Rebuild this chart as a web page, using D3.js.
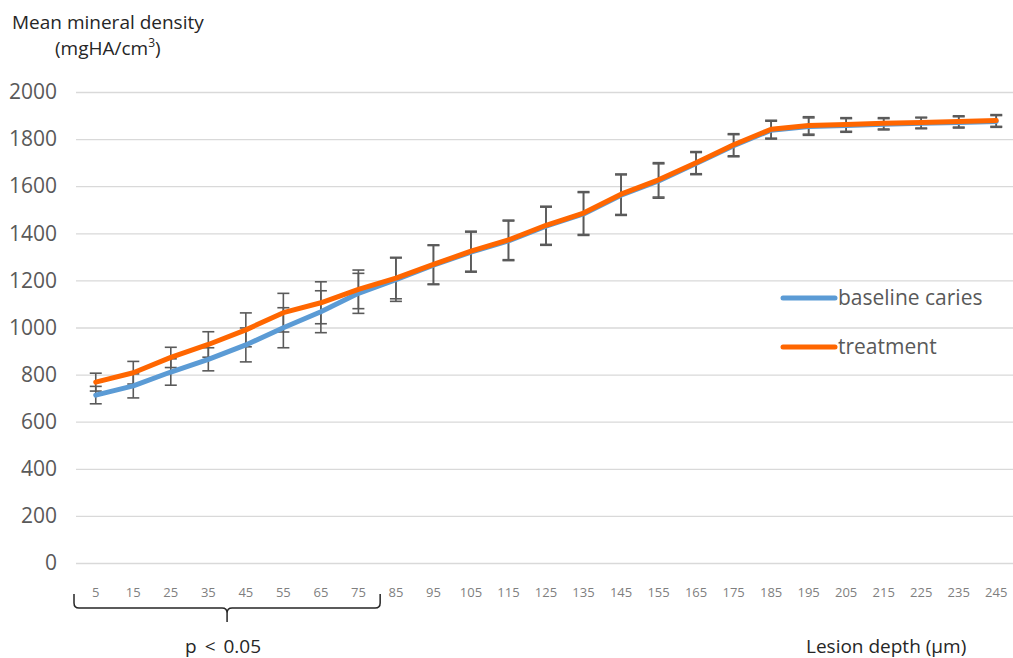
<!DOCTYPE html>
<html>
<head>
<meta charset="utf-8">
<script src="https://cdn.jsdelivr.net/npm/d3@7"></script>
<style>
  html, body { margin: 0; padding: 0; background: #ffffff; }
  svg { display: block; }
</style>
</head>
<body>
<svg id="chart" width="1013" height="658"></svg>
<script>
// Lesion depth (µm) at each measurement step
const depths = [5, 15, 25, 35, 45, 55, 65, 75, 85, 95, 105, 115, 125, 135, 145, 155, 165, 175, 185, 195, 205, 215, 225, 235, 245];

// Mean mineral density (mgHA/cm³) and standard deviation, baseline caries
const baselineMean = [713, 752, 811, 865, 926, 999, 1067, 1145, 1203, 1265, 1320, 1368, 1430, 1482, 1562, 1622, 1696, 1772, 1838, 1853, 1858, 1863, 1867, 1871, 1875];
const baselineSD   = [37, 51, 56, 49, 72, 85, 89, 85, 92, 83, 85, 84, 81, 91, 86, 73, 47, 47, 38, 37, 29, 24, 23, 24, 25];

// Mean mineral density (mgHA/cm³) and standard deviation, after treatment
const treatmentMean = [768, 808, 873, 928, 990, 1063, 1105, 1162, 1210, 1268, 1324, 1372, 1434, 1486, 1566, 1627, 1700, 1776, 1842, 1858, 1862, 1867, 1870, 1875, 1879];
const treatmentSD   = [38, 48, 43, 54, 72, 82, 89, 82, 88, 83, 85, 84, 81, 91, 86, 73, 47, 47, 38, 37, 29, 24, 23, 24, 25];

const yTicks = [0, 200, 400, 600, 800, 1000, 1200, 1400, 1600, 1800, 2000];
const significantDepths = [5, 15, 25, 35, 45, 55, 65, 75];

const series = [
  { name: "baseline caries", mean: baselineMean, sd: baselineSD, color: "#5B9BD5" },
  { name: "treatment", mean: treatmentMean, sd: treatmentSD, color: "#FF6600" }
];

(function draw() {
  const svg = d3.select("#chart");
  const plotLeft = 76, plotRight = 1013, plotTop = 92, plotBottom = 563;
  const font = "'Open Sans', 'Noto Sans', sans-serif";

  const x = d3.scaleBand().domain(depths.map(String)).range([77, 1015]).padding(0);
  const cx = d => x(String(d)) + x.bandwidth() / 2;
  const y = d3.scaleLinear().domain([0, 2000]).range([plotBottom, plotTop]);

  // Horizontal gridlines and value labels
  const yAxis = svg.append("g")
    .attr("transform", `translate(${plotLeft},0)`)
    .call(d3.axisLeft(y).tickValues(yTicks).tickSize(-(plotRight - plotLeft)).tickPadding(19).tickFormat(d3.format("d")));
  yAxis.select(".domain").remove();
  yAxis.selectAll(".tick line").attr("stroke", "#d9d9d9").attr("stroke-width", 1.3);
  yAxis.selectAll(".tick text")
    .attr("fill", "#595959").style("font-family", font).style("font-size", "21px");

  // Depth labels along the bottom
  const xAxis = svg.append("g")
    .attr("transform", `translate(0,${plotBottom})`)
    .call(d3.axisBottom(x).tickSize(0).tickPadding(25));
  xAxis.select(".domain").remove();
  xAxis.selectAll(".tick text")
    .attr("fill", "#7f7f7f").style("font-family", font).style("font-size", "13px");

  // Error bars (mean ± SD)
  const capHalf = 6;
  series.forEach(s => {
    const g = svg.append("g").attr("stroke", "#5a5a5a").attr("stroke-width", 1.6).attr("fill", "none");
    depths.forEach((d, i) => {
      const px = cx(d);
      const hi = y(s.mean[i] + s.sd[i]);
      const lo = y(s.mean[i] - s.sd[i]);
      g.append("line").attr("x1", px).attr("x2", px).attr("y1", hi).attr("y2", lo);
      g.append("line").attr("x1", px - capHalf).attr("x2", px + capHalf).attr("y1", hi).attr("y2", hi);
      g.append("line").attr("x1", px - capHalf).attr("x2", px + capHalf).attr("y1", lo).attr("y2", lo);
    });
  });

  // Mean lines
  const line = d3.line().x((d, i) => cx(depths[i])).y(d => y(d));
  series.forEach(s => {
    svg.append("path")
      .datum(s.mean)
      .attr("d", line)
      .attr("fill", "none")
      .attr("stroke", s.color)
      .attr("stroke-width", 5)
      .attr("stroke-linejoin", "round")
      .attr("stroke-linecap", "round");
  });

  // Legend
  const legend = svg.append("g");
  series.forEach((s, i) => {
    const ly = 298 + i * 49;
    legend.append("line")
      .attr("x1", 783).attr("x2", 835).attr("y1", ly).attr("y2", ly)
      .attr("stroke", s.color).attr("stroke-width", 5).attr("stroke-linecap", "round");
    legend.append("text")
      .attr("x", 838).attr("y", ly).attr("dy", "0.35em")
      .attr("fill", "#595959").style("font-family", font).style("font-size", "21px")
      .text(s.name);
  });

  // Axis titles
  svg.append("text").attr("x", 12).attr("y", 29)
    .attr("fill", "#262626").style("font-family", font).style("font-size", "19px")
    .text("Mean mineral density");
  const unit = svg.append("text").attr("x", 55).attr("y", 55).attr("fill", "#262626")
    .style("font-family", font).style("font-size", "19px");
  unit.append("tspan").text("(mgHA/cm");
  unit.append("tspan").attr("dy", -8).style("font-size", "12px").text("3");
  unit.append("tspan").attr("dy", 8).text(")");

  svg.append("text")
    .attr("x", 806).attr("y", 653)
    .attr("fill", "#262626").style("font-family", font).style("font-size", "19px")
    .text("Lesion depth (µm)");

  // Brace under the depths with a significant difference
  const bx0 = x(String(significantDepths[0])) - 3;
  const bx1 = x(String(significantDepths[significantDepths.length - 1])) + x.bandwidth() + 3;
  const bmid = (bx0 + bx1) / 2;
  const by = 608;
  const r = 5;
  const brace = d3.path();
  brace.moveTo(bx0, by - 14);
  brace.lineTo(bx0, by - r);
  brace.quadraticCurveTo(bx0, by, bx0 + r, by);
  brace.lineTo(bmid - r, by);
  brace.quadraticCurveTo(bmid, by, bmid, by + r);
  brace.lineTo(bmid, by + 14);
  brace.moveTo(bmid, by + r);
  brace.quadraticCurveTo(bmid, by, bmid + r, by);
  brace.lineTo(bx1 - r, by);
  brace.quadraticCurveTo(bx1, by, bx1, by - r);
  brace.lineTo(bx1, by - 14);
  svg.append("path").attr("d", brace.toString())
    .attr("fill", "none").attr("stroke", "#262626").attr("stroke-width", 1.5);

  svg.append("text")
    .attr("x", bmid - 4).attr("y", 653).attr("text-anchor", "middle")
    .attr("fill", "#262626").style("font-family", font).style("font-size", "19px")
    .style("word-spacing", "3px")
    .text("p < 0.05");
})();
</script>
</body>
</html>
